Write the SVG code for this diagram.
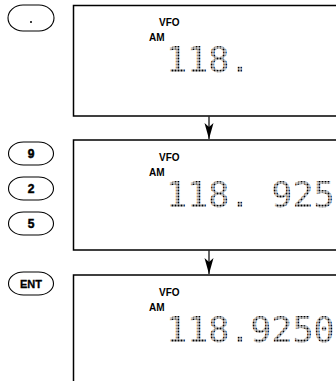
<svg xmlns="http://www.w3.org/2000/svg" width="336" height="381" viewBox="0 0 336 381">
<style>
.box{fill:#fff;stroke:#000;stroke-width:1.5}
.btn{fill:#fff;stroke:#000;stroke-width:1.1}
.key{font-family:"Liberation Sans",Arial,sans-serif;font-weight:bold;font-size:12px;fill:#000;stroke:#000;stroke-width:0.5;text-anchor:middle}
.lbl{font-family:"Liberation Sans",Arial,sans-serif;font-weight:bold;font-size:10px;fill:#000}
.lcd{font-family:"DejaVu Sans Mono",monospace;font-size:35px;fill:url(#dots)}
.con{stroke:#000;stroke-width:1.2;fill:none}
</style>
<defs>
<pattern id="dots" x="0" y="0" width="3" height="3" patternUnits="userSpaceOnUse">
<rect x="0.5" y="0.5" width="2" height="2" fill="#000"/>
</pattern>
<marker id="ah" markerWidth="18" markerHeight="10" refX="17" refY="5" orient="auto" markerUnits="userSpaceOnUse" viewBox="0 0 18 10">
<path d="M1,0.5 L5,5 L1,9.5 L17,5 Z" fill="#000"/>
</marker>
</defs>
<rect width="336" height="381" fill="#fff"/>
<g id="key-dot">
<rect class="btn" x="8" y="5" width="46" height="26" rx="15" ry="13"/>
<circle cx="31" cy="22" r="1" fill="#000"/>
</g>
<g id="key-9">
<rect class="btn" x="8.5" y="142" width="45" height="23" rx="15" ry="11.5"/>
<text class="key" x="31" y="158">9</text>
</g>
<g id="key-2">
<rect class="btn" x="8.5" y="177" width="45" height="23" rx="15" ry="11.5"/>
<text class="key" x="31" y="193">2</text>
</g>
<g id="key-5">
<rect class="btn" x="8.5" y="212" width="45" height="23" rx="15" ry="11.5"/>
<text class="key" x="31" y="228">5</text>
</g>
<g id="key-ent">
<rect class="btn" x="8.5" y="272" width="45" height="23" rx="15" ry="11.5"/>
<text class="key" x="31" y="288" style="font-size:11px;stroke-width:0.3">ENT</text>
</g>
<g id="display-1">
<rect class="box" x="73.5" y="5.5" width="280" height="110.5"/>
<text class="lbl" x="159" y="26">VFO</text>
<text class="lbl" x="149" y="41">AM</text>
<text class="lcd" x="166" y="72">118.</text>
</g>
<g id="display-2">
<rect class="box" x="73.5" y="140" width="280" height="110"/>
<text class="lbl" x="159" y="161">VFO</text>
<text class="lbl" x="149" y="176">AM</text>
<text class="lcd" x="166" y="207" xml:space="preserve">118. 925</text>
</g>
<g id="display-3">
<rect class="box" x="73.5" y="275" width="280" height="120"/>
<text class="lbl" x="159" y="296">VFO</text>
<text class="lbl" x="149" y="311">AM</text>
<text class="lcd" x="166" y="342">118.9250</text>
</g>
<g id="connectors">
<line class="con" x1="209" y1="116.5" x2="209" y2="139" marker-end="url(#ah)"/>
<line class="con" x1="209" y1="250.5" x2="209" y2="274" marker-end="url(#ah)"/>
</g>
</svg>
